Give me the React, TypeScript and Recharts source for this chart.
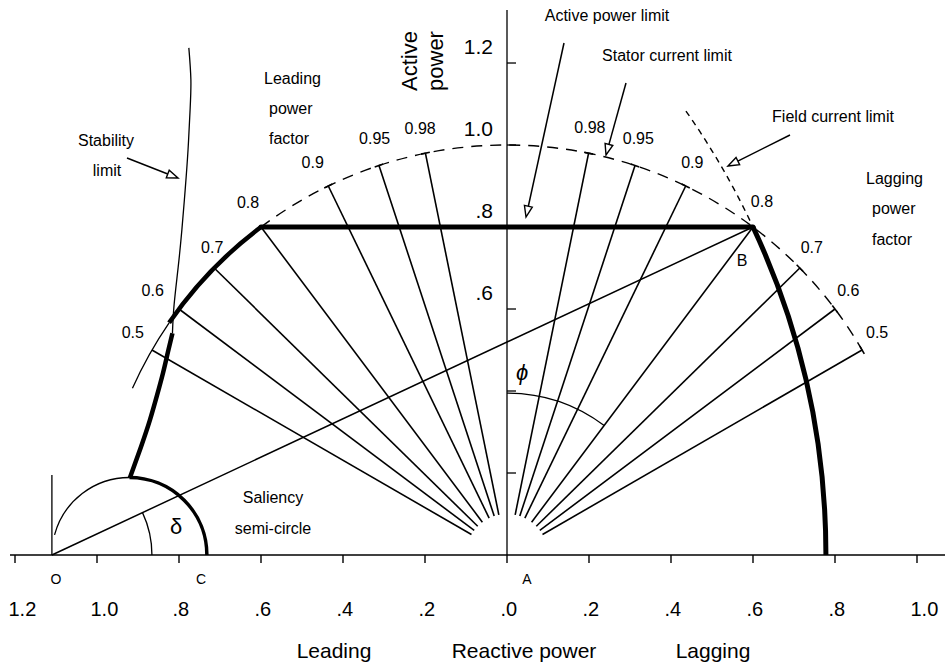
import React from 'react';
import { LineChart, Line, XAxis, YAxis, ReferenceLine, ReferenceDot, Customized } from 'recharts';

const FONT = '"Liberation Sans", Arial, Helvetica, sans-serif';
const INK = '#000';

// ---------- values (per unit) ----------
// Reactive power axis: negative = leading, positive = lagging
const REACTIVE_TICKS = [-1.2, -1.0, -0.8, -0.6, -0.4, -0.2, 0, 0.2, 0.4, 0.6, 0.8, 1.0];
const ACTIVE_TICKS = [0.2, 0.4, 0.6, 0.8, 1.0, 1.2];
const ACTIVE_TICK_LABELS = [0.6, 0.8, 1.0, 1.2];

// Power-factor rays, drawn on both sides of the active power axis
const POWER_FACTORS = [0.98, 0.95, 0.9, 0.8, 0.7, 0.6, 0.5];
const TICKED_LEADING = [0.98, 0.95, 0.9];
const TICKED_LAGGING = [0.98, 0.95, 0.9, 0.7, 0.6, 0.5];

// Machine limits
const STATOR_CURRENT_LIMIT = 1.0;
const ACTIVE_POWER_LIMIT = 0.8;
const RATED_POWER_FACTOR = 0.8;

// Points on the reactive power axis
const POINT_O = -1.11;
const POINT_C = -0.732;
const O_MARKER_HEIGHT = 0.195;

// Stability limit (Q, P)
const STABILITY_LIMIT = [
  { x: -0.776, y: 1.237 },
  { x: -0.771, y: 1.159 },
  { x: -0.773, y: 1.085 },
  { x: -0.778, y: 0.988 },
  { x: -0.785, y: 0.89 },
  { x: -0.793, y: 0.793 },
  { x: -0.802, y: 0.702 },
  { x: -0.812, y: 0.61 },
  { x: -0.816, y: 0.541 },
];

// Practical stability limit, running down to the saliency semi-circle
const PRACTICAL_STABILITY_LIMIT = [
  { x: -0.816, y: 0.541 },
  { x: -0.827, y: 0.495 },
  { x: -0.839, y: 0.444 },
  { x: -0.854, y: 0.388 },
  { x: -0.871, y: 0.329 },
  { x: -0.893, y: 0.263 },
  { x: -0.92, y: 0.188 },
];

// ---------- layout ----------
const WIDTH = 945;
const HEIGHT = 665;
const X_DOMAIN: [number, number] = [-1.2122, 1.0683];
const Y_DOMAIN: [number, number] = [0, 1.3293];
const FAN_INNER_RADIUS = 0.1;
const PF_LABEL_RADIUS = 1.065;
const PHI_ARC_RADIUS = 0.395;
const DELTA_ARC_RADIUS = 0.244;
const TICK_HALF = 0.011;
const STATOR_ARC_START = 156;
const STATOR_THICK_START = 145.5;
const FIELD_ARC_START = 35;
const SALIENCY_ARC_START = 165;

// pixel nudges for power-factor labels
const PF_LABEL_NUDGE_LEAD: Record<string, [number, number]> = {
  '0.98': [0, 1], '0.95': [4, -2], '0.9': [-4, 0], '0.8': [3, -3], '0.7': [17, -2], '0.6': [-5, -3], '0.5': [4, -4],
};
const PF_LABEL_NUDGE_LAG: Record<string, [number, number]> = {
  '0.98': [-4, 0], '0.95': [-5, -2], '0.9': [-5, 0], '0.8': [-7, -4], '0.7': [-7, -2], '0.6': [-8, -3], '0.5': [-8, -4],
};

// ---------- geometry ----------
const RAD = Math.PI / 180;
const pfAngle = (pf: number, lagging: boolean) => {
  const phi = Math.acos(pf) / RAD;
  return lagging ? 90 - phi : 90 + phi;
};
const onCircle = (cx: number, cy: number, r: number, deg: number) => ({
  x: cx + r * Math.cos(deg * RAD),
  y: cy + r * Math.sin(deg * RAD),
});

const POINT_B = onCircle(0, 0, STATOR_CURRENT_LIMIT, pfAngle(RATED_POWER_FACTOR, true));
const FIELD_RADIUS = Math.hypot(POINT_B.x - POINT_O, POINT_B.y);
const FIELD_B_ANGLE = Math.atan2(POINT_B.y, POINT_B.x - POINT_O) / RAD;
const SALIENCY_CENTER = (POINT_O + POINT_C) / 2;
const SALIENCY_RADIUS = (POINT_C - POINT_O) / 2;
const ACTIVE_LIMIT_HALF = Math.sqrt(STATOR_CURRENT_LIMIT ** 2 - ACTIVE_POWER_LIMIT ** 2);

const fmt = (v: number) => {
  const a = Math.abs(v);
  const s = a.toFixed(1);
  return a >= 1 ? s : s.slice(1);
};

type Pt = { x: number; y: number };

const seg = (key: string, a: Pt, b: Pt, width: number, extra: any = {}) => (
  <ReferenceLine
    key={key}
    ifOverflow="visible"
    segment={[a, b]}
    stroke={INK}
    strokeWidth={width}
    {...extra}
  />
);

type ArcSpec = { key: string; cx: number; r: number; from: number; to: number; width: number; dash?: string };

// An arc drawn around a centre on the Q axis; the radius in pixels comes from the scaled segment
const arc = (a: ArcSpec) => (
  <ReferenceLine
    key={a.key}
    ifOverflow="visible"
    segment={[{ x: a.cx, y: 0 }, { x: a.cx + a.r, y: 0 }]}
    shape={(p: any) => {
      const r = Math.abs(p.x2 - p.x1);
      const pt = (deg: number) => [p.x1 + r * Math.cos(deg * RAD), p.y1 - r * Math.sin(deg * RAD)];
      const [sx, sy] = pt(a.from);
      const [ex, ey] = pt(a.to);
      const large = Math.abs(a.from - a.to) > 180 ? 1 : 0;
      const sweep = a.from > a.to ? 1 : 0;
      return (
        <path
          d={`M${sx},${sy} A${r},${r} 0 ${large} ${sweep} ${ex},${ey}`}
          fill="none"
          stroke={INK}
          strokeWidth={a.width}
          strokeDasharray={a.dash}
        />
      );
    }}
  />
);

const ARCS: ArcSpec[] = [
  { key: 'stator-thin', cx: 0, r: STATOR_CURRENT_LIMIT, from: STATOR_ARC_START, to: STATOR_THICK_START, width: 1.3 },
  { key: 'stator-thick', cx: 0, r: STATOR_CURRENT_LIMIT, from: STATOR_THICK_START, to: pfAngle(RATED_POWER_FACTOR, false), width: 4.5 },
  { key: 'stator-dash', cx: 0, r: STATOR_CURRENT_LIMIT, from: pfAngle(RATED_POWER_FACTOR, false), to: pfAngle(0.5, true), width: 1.4, dash: '11 8' },
  { key: 'field-dash', cx: POINT_O, r: FIELD_RADIUS, from: FIELD_ARC_START, to: FIELD_B_ANGLE, width: 1.4, dash: '6 5' },
  { key: 'field-thick', cx: POINT_O, r: FIELD_RADIUS, from: FIELD_B_ANGLE, to: 0, width: 5 },
  { key: 'saliency-thin', cx: SALIENCY_CENTER, r: SALIENCY_RADIUS, from: SALIENCY_ARC_START, to: 90, width: 1.3 },
  { key: 'saliency-thick', cx: SALIENCY_CENTER, r: SALIENCY_RADIUS, from: 90, to: 0, width: 3.5 },
  { key: 'phi', cx: 0, r: PHI_ARC_RADIUS, from: 90, to: pfAngle(RATED_POWER_FACTOR, true), width: 1.3 },
  { key: 'delta', cx: POINT_O, r: DELTA_ARC_RADIUS, from: FIELD_B_ANGLE, to: 0, width: 1.3 },
];

const renderReactiveTick = (p: any) => (
  <text x={p.x - 6.5} y={p.y + 51} textAnchor="start" fontSize={20} fontFamily={FONT} fill={INK}>
    {fmt(p.payload.value)}
  </text>
);

const pfLabel = (pf: number, lagging: boolean) => {
  const pos = onCircle(0, 0, PF_LABEL_RADIUS, pfAngle(pf, lagging));
  const nudge = (lagging ? PF_LABEL_NUDGE_LAG : PF_LABEL_NUDGE_LEAD)[String(pf)] || [0, 0];
  return (
    <ReferenceDot
      key={`pfl-${lagging ? 'lag' : 'lead'}-${pf}`}
      x={pos.x}
      y={pos.y}
      r={0}
      ifOverflow="visible"
      shape={(p: any) => (
        <text x={p.cx + nudge[0]} y={p.cy + nudge[1] + 5.5} textAnchor="middle" fontSize={16} fontFamily={FONT} fill={INK}>
          {String(pf)}
        </text>
      )}
    />
  );
};

const Arrow = ({ from, to }: { from: [number, number]; to: [number, number] }) => {
  const [x1, y1] = from;
  const [x2, y2] = to;
  const ang = Math.atan2(y2 - y1, x2 - x1);
  const L = 11;
  const W = 4;
  const bx = x2 - L * Math.cos(ang);
  const by = y2 - L * Math.sin(ang);
  const px = -Math.sin(ang) * W;
  const py = Math.cos(ang) * W;
  return (
    <g>
      <line x1={x1} y1={y1} x2={bx} y2={by} stroke={INK} strokeWidth={1.5} />
      <polygon
        points={`${x2},${y2} ${bx + px},${by + py} ${bx - px},${by - py}`}
        fill="#fff"
        stroke={INK}
        strokeWidth={1.4}
        strokeLinejoin="miter"
      />
    </g>
  );
};

const T = ({ x, y, size = 16, anchor = 'middle', children, italic = false }: any) => (
  <text x={x} y={y} fontSize={size} textAnchor={anchor} fontFamily={FONT} fill={INK} fontStyle={italic ? 'italic' : 'normal'}>
    {children}
  </text>
);

const Annotations = () => (
  <g>
    <text transform="rotate(-90 417 61)" x={417} y={61} fontSize={22} textAnchor="middle" fontFamily={FONT} fill={INK}>Active</text>
    <text transform="rotate(-90 443 61)" x={443} y={61} fontSize={22} textAnchor="middle" fontFamily={FONT} fill={INK}>power</text>

    <T x={607} y={21}>Active power limit</T>
    <T x={667} y={61}>Stator current limit</T>
    <T x={833} y={122}>Field current limit</T>

    <T x={264} y={84} anchor="start">Leading</T>
    <T x={269} y={114} anchor="start">power</T>
    <T x={269} y={144} anchor="start">factor</T>

    <T x={866} y={184} anchor="start">Lagging</T>
    <T x={872} y={214} anchor="start">power</T>
    <T x={872} y={245} anchor="start">factor</T>

    <T x={106} y={146}>Stability</T>
    <T x={107} y={176}>limit</T>

    <T x={273} y={503}>Saliency</T>
    <T x={273} y={534}>semi-circle</T>

    <T x={742} y={266}>B</T>
    <T x={56} y={584} size={14}>O</T>
    <T x={201} y={584} size={14}>C</T>
    <T x={527} y={584} size={14}>A</T>

    <T x={522} y={380} size={22} italic>{'\u03D5'}</T>
    <T x={176} y={534} size={22}>{'\u03B4'}</T>

    <T x={334} y={658} size={21}>Leading</T>
    <T x={524} y={658} size={21}>Reactive power</T>
    <T x={713} y={658} size={21}>Lagging</T>

    <Arrow from={[127, 158]} to={[178, 178]} />
    <Arrow from={[564, 43]} to={[526, 217]} />
    <Arrow from={[626, 83]} to={[606, 155]} />
    <Arrow from={[790, 135]} to={[728, 166]} />
  </g>
);

export default function App() {
  const rays: React.ReactNode[] = [];
  POWER_FACTORS.forEach((pf) => {
    [false, true].forEach((lagging) => {
      const ang = pfAngle(pf, lagging);
      const inner = onCircle(0, 0, FAN_INNER_RADIUS, ang);
      const outer = onCircle(0, 0, STATOR_CURRENT_LIMIT, ang);
      rays.push(seg(`ray-${lagging ? 'lag' : 'lead'}-${pf}`, inner, outer, 1.6));
      const ticked = (lagging ? TICKED_LAGGING : TICKED_LEADING).includes(pf);
      if (ticked) {
        const ta = ang + 90;
        const a = { x: outer.x + TICK_HALF * Math.cos(ta * RAD), y: outer.y + TICK_HALF * Math.sin(ta * RAD) };
        const b = { x: outer.x - TICK_HALF * Math.cos(ta * RAD), y: outer.y - TICK_HALF * Math.sin(ta * RAD) };
        rays.push(seg(`tick-${lagging ? 'lag' : 'lead'}-${pf}`, a, b, 1.6));
      }
    });
  });

  return (
    <div style={{ position: 'absolute', left: 0, top: 0, width: WIDTH, height: HEIGHT, background: '#fff' }}>
      <LineChart width={WIDTH} height={HEIGHT} margin={{ top: 10, right: 0, bottom: 0, left: 10 }}>
        <XAxis
          type="number"
          dataKey="x"
          domain={X_DOMAIN}
          ticks={REACTIVE_TICKS}
          interval={0}
          allowDataOverflow
          height={110}
          tickSize={8}
          axisLine={{ stroke: INK, strokeWidth: 1.6 }}
          tickLine={{ stroke: INK, strokeWidth: 1.4 }}
          tick={renderReactiveTick}
        />
        <YAxis hide type="number" domain={Y_DOMAIN} allowDataOverflow />

        {/* active power axis */}
        <ReferenceLine x={0} stroke={INK} strokeWidth={1.3} ifOverflow="visible" />
        {ACTIVE_TICKS.map((v) => (
          <ReferenceLine
            key={`yt-${v}`}
            ifOverflow="visible"
            segment={[{ x: 0, y: v }, { x: 0.022, y: v }]}
            shape={(p: any) => (
              <g>
                <line x1={p.x1} y1={p.y1} x2={p.x2} y2={p.y2} stroke={INK} strokeWidth={1.3} />
                {ACTIVE_TICK_LABELS.includes(v) && (
                  <text x={p.x1 - 14} y={p.y1 - 9} textAnchor="end" fontSize={21} fontFamily={FONT} fill={INK}>
                    {fmt(v)}
                  </text>
                )}
              </g>
            )}
          />
        ))}

        {rays}

        {/* O marker and the line O-B */}
        {seg('o-marker', { x: POINT_O, y: 0 }, { x: POINT_O, y: O_MARKER_HEIGHT }, 1.3)}
        {seg('o-b', { x: POINT_O, y: 0 }, POINT_B, 1.5)}

        {ARCS.map(arc)}

        {/* active power limit */}
        {seg('p-limit', { x: -ACTIVE_LIMIT_HALF, y: ACTIVE_POWER_LIMIT }, { x: ACTIVE_LIMIT_HALF, y: ACTIVE_POWER_LIMIT }, 5, { strokeLinecap: 'round' })}

        <Line data={STABILITY_LIMIT} dataKey="y" type="natural" dot={false} stroke={INK} strokeWidth={1.3} isAnimationActive={false} />
        <Line data={PRACTICAL_STABILITY_LIMIT} dataKey="y" type="natural" dot={false} stroke={INK} strokeWidth={4.5} isAnimationActive={false} />

        {POWER_FACTORS.map((pf) => pfLabel(pf, false))}
        {POWER_FACTORS.map((pf) => pfLabel(pf, true))}

        <Customized component={<Annotations />} />
      </LineChart>
    </div>
  );
}
